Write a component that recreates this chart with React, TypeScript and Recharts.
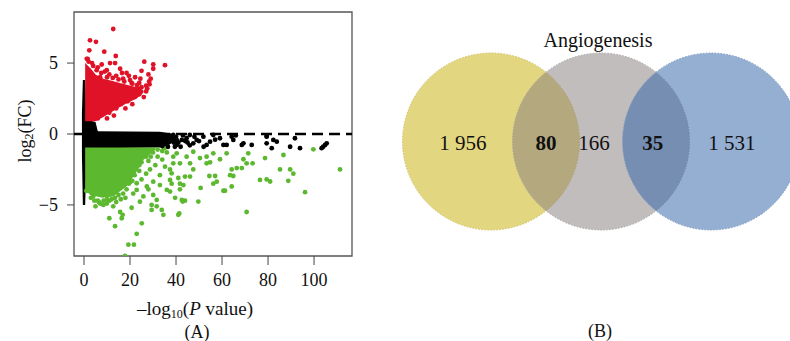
import React from 'react'
import {
  ComposedChart,
  ScatterChart,
  Scatter,
  Area,
  XAxis,
  YAxis,
  ReferenceLine,
  ReferenceArea,
} from 'recharts'

// ---- panel A: volcano plot ----
const xTicks = [0, 20, 40, 60, 80, 100]
const yTicks = [-5, 0, 5]
const xDomain: [number, number] = [-4.35, 116.5]
const yDomain: [number, number] = [-8.6, 8.6]

// dense clouds, read as [low, high] bands
const blackCore = [
  { x: -0.9, band: [-1.5, 1.5] },
  { x: -0.5, band: [-5.0, 3.8] },
  { x: 0.5, band: [-5.0, 3.8] },
  { x: 1.2, band: [-1.0, 1.0] },
  { x: 5, band: [-1.0, 0.85] },
  { x: 6, band: [-1.0, 0.2] },
  { x: 33, band: [-0.95, 0.15] },
  { x: 37, band: [-0.75, 0.05] },
  { x: 40, band: [-0.45, -0.1] },
]

const redCore = [
  { x: 0.5, band: [0.9, 5.0] },
  { x: 3, band: [0.9, 4.6] },
  { x: 5, band: [0.9, 4.2] },
  { x: 8.4, band: [1.2, 3.9] },
  { x: 12, band: [1.55, 3.75] },
  { x: 15.6, band: [1.9, 3.6] },
  { x: 19, band: [2.2, 3.45] },
  { x: 22.9, band: [2.5, 3.3] },
  { x: 25.8, band: [2.9, 3.1] },
]

const greenCore = [
  { x: 0.5, band: [-3.8, -0.95] },
  { x: 2.6, band: [-4.3, -0.95] },
  { x: 8, band: [-4.5, -0.95] },
  { x: 12.7, band: [-4.4, -0.95] },
  { x: 16, band: [-4.0, -0.95] },
  { x: 18.5, band: [-3.7, -0.95] },
  { x: 21, band: [-3.1, -0.95] },
  { x: 23, band: [-2.6, -0.95] },
  { x: 26, band: [-1.8, -0.95] },
  { x: 29, band: [-1.4, -0.95] },
  { x: 31, band: [-1.1, -0.95] },
]

// single genes outside the clouds
const redGenes = [
  [12.7, 7.4], [2.6, 6.6], [5.2, 6.5], [2.3, 5.9], [8.8, 5.8], [13.8, 5.5],
  [1.6, 5.3], [7.7, 4.9], [11.3, 5.0], [13.5, 5.0], [26.2, 5.1], [30.1, 4.9],
  [30.1, 4.6], [35.2, 4.85], [28, 4.2], [25, 4.45], [28.3, 3.7], [22.2, 4.0],
  [9.9, 4.5], [15.7, 4.6], [18.5, 4.3], [20.7, 3.6], [23.6, 3.2], [18.3, 3.2],
  [4, 3.9], [7, 4.0], [1.2, 5.3], [3.5, 5.0], [6, 4.7], [9, 4.4], [11, 4.2],
  [14, 4.1], [17, 3.9], [20, 3.8], [24, 3.6], [27, 3.4], [29, 3.9], [26, 2.6],
  [21, 2.1], [18, 1.8], [13, 1.3], [10, 1.1],
  [2, 5.1], [4, 4.8], [5.5, 4.5], [7.5, 4.3], [10, 4.0], [12.5, 3.95],
  [15, 3.85], [17.5, 3.7], [21, 3.55], [23, 3.45], [25, 3.3], [27.5, 3.2],
  [28.5, 3.5], [6, 1.1], [8, 1.4], [11, 1.5], [14, 1.8], [16, 2.1], [19, 2.3],
  [22, 2.6], [24, 2.8], [27, 3.0], [19.5, 4.1], [16.5, 4.3], [24.5, 3.9],
]

const blackGenes = [
  [38.8, -0.07], [42.5, -0.42], [46, -0.07], [49, -0.42], [51.9, -0.19],
  [54.8, -0.54], [56.2, -0.07], [59.1, -0.3], [60.6, -0.77], [64.2, -0.19],
  [64.9, -0.42], [69.3, -0.66], [72.9, -0.77], [79.4, -0.19], [79.4, -0.66],
  [82.3, -0.42], [83.8, -0.54], [81.6, -1.0], [91.7, -0.3], [93.9, -1.0],
  [103.3, -1.0], [104.8, -0.77], [40.3, -0.77], [47.5, -0.66], [53.3, -0.77],
  [37.4, -0.19], [40.3, -0.42], [44.6, -0.3], [62, -0.77], [68.6, -0.77],
  [79.4, -0.14], [89.6, -0.9], [104, -0.9], [105.5, -0.66], [31, -0.5],
  [33, -0.2], [35, -0.7], [36, -0.3], [37, -0.1], [39, -0.6], [43, -0.1],
  [45, -0.6], [48, -0.2], [57, -0.4], [66, -0.1],
  [34, -0.85], [36.5, -0.9], [38, -0.4], [40, -0.2], [41, -0.6], [42, -0.9],
  [44, -0.5], [46, -0.8], [50, -0.5], [52, -0.9], [35.5, -0.1], [39.5, -0.9],
]

const greenGenes = [
  [99.7, -1.08], [111.3, -2.5], [96.1, -4.1], [70.7, -5.5], [86.7, -1.48],
  [78.7, -1.7], [85.2, -2.5], [89.6, -2.5], [91, -2.8], [88.8, -3.3],
  [76.5, -3.24], [79.4, -3.2], [80.9, -3.35], [71.4, -1.36], [69.3, -1.78],
  [70.7, -2.07], [73.3, -2.07], [66.4, -2.4], [68.6, -2.4], [64.2, -2.5],
  [63.5, -2.9], [64.9, -2.96], [64.2, -3.7], [60.6, -4.0], [61.3, -4.0],
  [62, -1.36], [59.1, -1.78], [56.2, -1.36], [54.8, -2.0], [57, -2.96],
  [57.7, -3.36], [56.2, -3.5], [54.5, -2.96], [50.7, -3.8], [49.7, -4.76],
  [43.9, -4.7], [42.9, -4.76], [41.4, -5.6], [39.6, -4.5], [41.7, -3.9],
  [41.7, -3.5], [41, -3.1], [43.9, -3.0], [46.1, -3.0], [47.5, -2.5],
  [46.1, -2.07], [44.6, -1.6], [47.5, -1.25], [50.4, -1.7], [53.3, -2.07],
  [53.3, -1.6], [40.3, -1.36], [38.8, -2.07], [38.1, -2.77], [38.1, -3.5],
  [37.4, -4.06], [17.8, -8.6], [19.3, -7.8], [21.7, -7.8], [22.9, -7.04],
  [25.1, -6.3], [13.5, -6.5], [11, -5.94], [16.4, -5.94], [12.7, -5.1],
  [15.7, -5.5], [16.8, -5.7], [8.4, -5.0], [9.9, -4.9], [20.7, -5.2],
  [24.3, -4.77], [29.4, -5.35], [31.6, -5.1], [34.5, -5.7], [33.8, -5.35],
  [29.4, -5.0], [41, -5.7], [42.5, -4.65], [43.2, -3.6], [25.8, -4.4],
  [30.1, -4.3], [31.6, -4.65], [36, -3.94], [37.4, -3.24], [33, -3.6],
  [37.4, -2.5], [35.2, -2.3], [41.7, -2.07], [38.8, -1.6], [28.7, -2.5],
  [30.1, -3.36], [27.3, -3.7], [22.9, -3.47], [21.4, -4.2], [22.9, -3.94],
  [22, -1.5], [24, -2.2], [26, -1.2], [27, -2.8], [29, -1.6], [31, -2.2],
  [32, -1.1], [33, -2.9], [34, -1.8], [36, -1.3], [25, -3.2], [28, -3.9],
  [20, -3.4], [18, -4.5], [16, -4.6], [14, -4.8], [11, -4.7], [6, -4.7],
  [4, -4.4], [2, -4.0], [5, -5.1], [7, -4.9],
  [1, -4.0], [3, -4.5], [4.5, -4.7], [6.5, -4.8], [8.5, -4.7], [10, -4.6],
  [12, -4.6], [13.5, -4.5], [15, -4.3], [17, -4.2], [18.5, -3.9], [19.5, -3.5],
  [21, -3.3], [22, -2.9], [24, -2.6], [25, -2.0], [27, -1.6], [28, -1.9],
  [30, -1.3], [32, -1.6], [34, -1.2], [35, -1.0], [23, -1.2], [20, -2.0],
]

// ---- panel B: Venn ----
const vennSets = ['', 'Angiogenesis', '']
const vennCenters = [0, 1, 2]
const regionCounts = [1956, 80, 166, 35, 1531]
const regionCenters = [-0.255, 0.5, 0.936, 1.47, 2.19]
const regionShared = [false, true, false, true, false]

const SERIF = '"Liberation Serif", "DejaVu Serif", serif'
const RED = '#e01228'
const GREEN = '#5cb82f'
const vennFill = ['rgb(199,173,1)', 'rgb(133,123,123)', 'rgb(41,95,165)']
const vennStroke = ['#cfbf63', '#a8a2a2', '#7f9bc2']

const toPts = (arr: number[][]) => arr.map(([x, y]) => ({ x, y }))

const dot = (color: string) => (p: any) =>
  <circle cx={p.cx} cy={p.cy} r={2.4} fill={color} />

const fmt = (n: number) => String(n).replace(/\B(?=(\d{3})+(?!\d))/g, ' ')

const vennData = vennSets.map((name, i) => ({ x: vennCenters[i], y: 0, name, i }))
const regionData = regionCounts.map((c, i) => ({ x: regionCenters[i], y: 0, c, bold: regionShared[i] }))

const VolcanoPanel = () => (
  <ComposedChart
    width={370}
    height={341}
    margin={{ top: 12, right: 18, bottom: 55, left: 0 }}
  >
    <XAxis
      type="number"
      dataKey="x"
      domain={xDomain}
      ticks={xTicks}
      allowDataOverflow
      axisLine={false}
      tickSize={9}
      tickMargin={8}
      height={30}
      stroke="#444"
      tick={{ fontFamily: SERIF, fontSize: 18, fill: '#111' }}
    />
    <YAxis
      type="number"
      dataKey="y"
      domain={yDomain}
      ticks={yTicks}
      allowDataOverflow
      axisLine={false}
      tickSize={7}
      tickMargin={9}
      width={74}
      stroke="#444"
      tick={{ fontFamily: SERIF, fontSize: 18, fill: '#111' }}
      tickFormatter={(v: number) => (v < 0 ? `\u2212${-v}` : `${v}`)}
    />
    <Area data={blackCore} dataKey="band" type="linear" stroke="none" fill="#000" fillOpacity={1} isAnimationActive={false} />
    <Area data={redCore} dataKey="band" type="linear" stroke="none" fill={RED} fillOpacity={1} isAnimationActive={false} />
    <Area data={greenCore} dataKey="band" type="linear" stroke="none" fill={GREEN} fillOpacity={1} isAnimationActive={false} />
    <Scatter data={toPts(redGenes)} shape={dot(RED)} isAnimationActive={false} />
    <Scatter data={toPts(greenGenes)} shape={dot(GREEN)} isAnimationActive={false} />
    <Scatter data={toPts(blackGenes)} shape={dot('#000')} isAnimationActive={false} />
    <ReferenceLine y={0} stroke="#000" strokeWidth={2.5} strokeDasharray="11 6" />
    <ReferenceArea
      x1={xDomain[0]}
      x2={xDomain[1]}
      y1={yDomain[0]}
      y2={yDomain[1]}
      fill="none"
      stroke="#555"
      strokeWidth={1.3}
      ifOverflow="visible"
    />
    <text
      x={25}
      y={131}
      transform="rotate(-90, 25, 131)"
      textAnchor="middle"
      dominantBaseline="central"
      style={{ fontFamily: SERIF, fontSize: 18, fill: '#111' }}
    >
      log<tspan fontSize={12} dy={4}>2</tspan>
      <tspan dy={-4}>(FC)</tspan>
    </text>
    <text
      x={195}
      y={315}
      textAnchor="middle"
      style={{ fontFamily: SERIF, fontSize: 19, fill: '#111' }}
    >
      {'\u2013log'}
      <tspan fontSize={12} dy={3}>10</tspan>
      <tspan dy={-3}>(</tspan>
      <tspan fontStyle="italic">P</tspan>
      <tspan> value)</tspan>
    </text>
    <text
      x={197}
      y={338}
      textAnchor="middle"
      style={{ fontFamily: SERIF, fontSize: 18, fill: '#111' }}
    >
      (A)
    </text>
  </ComposedChart>
)

// plot spans the whole panel: 110 px per set step, centre line at y = 141.5
const vennXDomain: [number, number] = [-101 / 110, 299 / 110]
const vennYDomain: [number, number] = [-199.5 / 100, 141.5 / 100]

const VennPanel = () => (
  <ScatterChart
    width={400}
    height={341}
    margin={{ top: 0, right: 0, bottom: 0, left: 0 }}
  >
    <XAxis type="number" dataKey="x" domain={vennXDomain} hide height={0} />
    <YAxis type="number" dataKey="y" domain={vennYDomain} hide width={0} />
    <Scatter
      data={vennData}
      isAnimationActive={false}
      shape={(p: any) => (
        <g>
          <circle
            cx={p.cx}
            cy={p.cy}
            r={88.5}
            fill={vennFill[p.payload.i]}
            fillOpacity={0.5}
            stroke={vennStroke[p.payload.i]}
            strokeWidth={1}
            strokeDasharray="1.5 1.5"
          />
          {p.payload.name ? (
            <text
              x={p.cx - 3}
              y={p.cy - 94.5}
              textAnchor="middle"
              style={{ fontFamily: SERIF, fontSize: 20, fill: '#111' }}
            >
              {p.payload.name}
            </text>
          ) : null}
        </g>
      )}
    />
    <Scatter
      data={regionData}
      isAnimationActive={false}
      shape={(p: any) => (
        <text
          x={p.cx}
          y={p.cy + 8.5}
          textAnchor="middle"
          style={{
            fontFamily: SERIF,
            fontSize: 21,
            fontWeight: p.payload.bold ? 700 : 400,
            fill: '#111',
          }}
        >
          {fmt(p.payload.c)}
        </text>
      )}
    />
    <text
      x={210}
      y={337}
      textAnchor="middle"
      style={{ fontFamily: SERIF, fontSize: 18, fill: '#111' }}
    >
      (B)
    </text>
  </ScatterChart>
)

export default function App() {
  return (
    <div style={{ position: 'absolute', left: 0, top: 0, width: 790, height: 341, background: '#fff', overflow: 'hidden' }}>
      <div style={{ position: 'absolute', left: 0, top: 0 }}>
        <VolcanoPanel />
      </div>
      <div style={{ position: 'absolute', left: 390, top: 0 }}>
        <VennPanel />
      </div>
    </div>
  )
}
